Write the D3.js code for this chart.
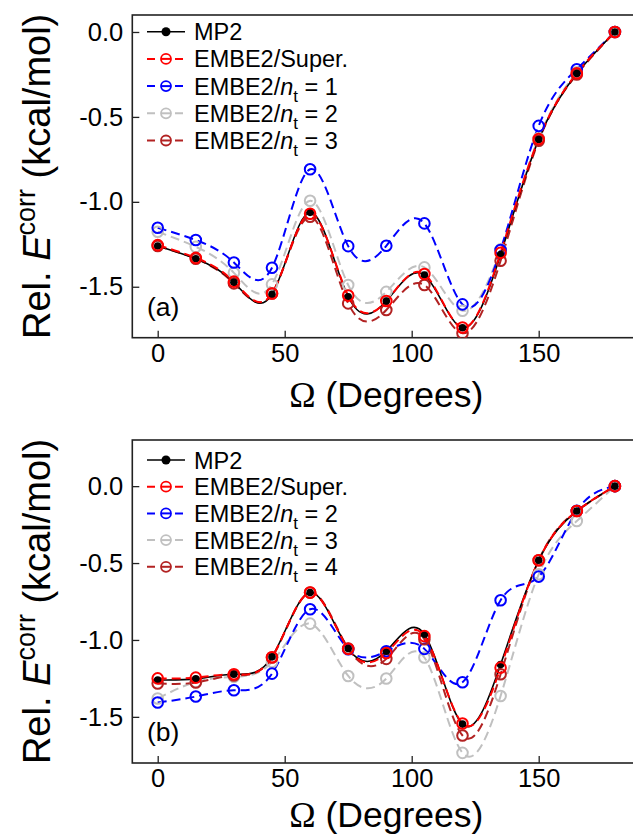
<!DOCTYPE html>
<html>
<head>
<meta charset="utf-8">
<script src="https://cdn.jsdelivr.net/npm/d3@7"></script>
<style>
  html, body { margin: 0; padding: 0; background: #fff; }
  svg { display: block; font-family: "Liberation Sans", Arial, sans-serif; }
</style>
</head>
<body>
<script>
// Dihedral scan angles (degrees)
const angles = [0, 15, 30, 45, 60, 75, 90, 105, 120, 135, 150, 165, 180];

// Panel (a): relative correlation energies, kcal/mol
const mp2A   = [-1.260, -1.335, -1.474, -1.545, -1.062, -1.559, -1.584, -1.431, -1.741, -1.310, -0.633, -0.245, 0];
const superA = [-1.255, -1.330, -1.470, -1.540, -1.070, -1.552, -1.584, -1.425, -1.740, -1.300, -0.630, -0.243, 0];
const nt1A   = [-1.153, -1.225, -1.357, -1.388, -0.808, -1.261, -1.259, -1.127, -1.604, -1.284, -0.553, -0.219, 0];
const nt2A   = [-1.176, -1.265, -1.418, -1.486, -0.994, -1.490, -1.530, -1.386, -1.641, -1.280, -0.625, -0.238, 0];
const nt3A   = [-1.260, -1.335, -1.480, -1.540, -1.088, -1.598, -1.637, -1.490, -1.774, -1.347, -0.640, -0.250, 0];

// Panel (b): relative correlation energies, kcal/mol
const mp2B   = [-1.260, -1.253, -1.223, -1.110, -0.692, -1.056, -1.073, -0.963, -1.547, -1.160, -0.482, -0.162, 0];
const superB = [-1.250, -1.245, -1.223, -1.112, -0.692, -1.058, -1.085, -0.975, -1.543, -1.180, -0.482, -0.162, 0];
const nt2B   = [-1.407, -1.368, -1.327, -1.219, -0.800, -1.060, -1.073, -1.058, -1.275, -0.742, -0.588, -0.160, 0];
const nt3B   = [-1.381, -1.273, -1.240, -1.143, -0.894, -1.234, -1.251, -1.114, -1.734, -1.364, -0.573, -0.227, 0];
const nt4B   = [-1.283, -1.277, -1.231, -1.114, -0.692, -1.056, -1.123, -0.995, -1.621, -1.223, -0.482, -0.162, 0];

// Axis ticks
const xTicks = [0, 50, 100, 150];
const yTicks = [0, -0.5, -1.0, -1.5];

// Legend labels: [prefix, subscript-number] (null number = plain text)
const legendA = [["MP2", null], ["EMBE2/Super.", null], ["EMBE2/", "1"], ["EMBE2/", "2"], ["EMBE2/", "3"]];
const legendB = [["MP2", null], ["EMBE2/Super.", null], ["EMBE2/", "2"], ["EMBE2/", "3"], ["EMBE2/", "4"]];

const styles = {
  mp2:   { color: "#000000", dash: null,  filled: true },
  sup:   { color: "#ff0000", dash: "9,5", filled: false },
  blue:  { color: "#0000ff", dash: "9,5", filled: false },
  grey:  { color: "#c0c0c0", dash: "9,5", filled: false },
  brown: { color: "#b22222", dash: "9,5", filled: false }
};

const W = 633, H = 837;
const svg = d3.select("body").append("svg").attr("width", W).attr("height", H);

const x = d3.scaleLinear().domain([-10, 190]).range([132.3, 640.3]);

function drawPanel(p) {
  const y = d3.scaleLinear().domain(p.yDomain).range([p.bottom, p.top]);
  const g = svg.append("g");
  const left = x.range()[0], right = x.range()[1];

  // clip so curves stay inside the frame
  const clipId = "clip-" + p.tag;
  svg.append("clipPath").attr("id", clipId).append("rect")
    .attr("x", left).attr("y", p.top).attr("width", right - left).attr("height", p.bottom - p.top);

  // axes with inward ticks
  const xAxis = d3.axisBottom(x).tickValues(xTicks).tickSizeInner(-7).tickSizeOuter(0).tickPadding(6)
    .tickFormat(d => String(d));
  const yAxis = d3.axisLeft(y).tickValues(yTicks).tickSizeInner(-7).tickSizeOuter(0).tickPadding(9)
    .tickFormat(d => d.toFixed(1));

  const gx = g.append("g").attr("transform", `translate(0,${p.bottom})`).call(xAxis);
  const gy = g.append("g").attr("transform", `translate(${left},0)`).call(yAxis);
  [gx, gy].forEach(a => {
    a.select(".domain").remove();
    a.selectAll(".tick line").attr("stroke", "#222").attr("stroke-width", 1.3);
    a.selectAll(".tick text").attr("fill", "#000").attr("font-size", 25.5)
      .attr("font-family", "'Liberation Sans', Arial, sans-serif");
  });

  // frame
  g.append("rect").attr("x", left).attr("y", p.top)
    .attr("width", right - left).attr("height", p.bottom - p.top)
    .attr("fill", "none").attr("stroke", "#222").attr("stroke-width", 1.6);

  const line = d3.line().x((d, i) => x(angles[i])).y(d => y(d)).curve(d3.curveNatural);
  const plot = g.append("g").attr("clip-path", `url(#${clipId})`);

  // curves
  p.series.forEach(s => {
    const st = styles[s.style];
    plot.append("path").datum(s.values).attr("d", line)
      .attr("fill", "none").attr("stroke", st.color)
      .attr("stroke-width", st.dash ? 2 : 1.6)
      .attr("stroke-dasharray", st.dash);
  });
  // markers
  p.series.forEach(s => {
    const st = styles[s.style];
    plot.append("g").selectAll("circle").data(s.values).join("circle")
      .attr("cx", (d, i) => x(angles[i])).attr("cy", d => y(d))
      .attr("r", st.filled ? 3.8 : 5.3)
      .attr("fill", st.filled ? st.color : "none")
      .attr("stroke", st.color).attr("stroke-width", st.filled ? 0 : 2);
  });

  // legend
  const lg = g.append("g");
  p.legend.forEach((lab, i) => {
    const st = styles[p.legendStyles[i]];
    const cy = p.legendTop + i * p.legendStep;
    lg.append("line").attr("x1", 147).attr("x2", 185).attr("y1", cy).attr("y2", cy)
      .attr("stroke", st.color).attr("stroke-width", st.dash ? 2 : 1.6)
      .attr("stroke-dasharray", st.dash ? "8,6" : null);
    lg.append("circle").attr("cx", 166).attr("cy", cy).attr("r", st.filled ? 4.5 : 5)
      .attr("fill", st.filled ? st.color : "#fff")
      .attr("stroke", st.color).attr("stroke-width", st.filled ? 0 : 1.8);
    if (!st.filled) {
      lg.append("line").attr("x1", 161).attr("x2", 171).attr("y1", cy).attr("y2", cy)
        .attr("stroke", st.color).attr("stroke-width", 2);
    }
    const t = lg.append("text").attr("x", 194).attr("y", cy + 8.5).attr("font-size", 23.5).attr("fill", "#000");
    if (lab[1] === null) {
      t.text(lab[0]);
    } else {
      t.append("tspan").text(lab[0]);
      t.append("tspan").attr("font-style", "italic").text("n");
      t.append("tspan").attr("font-size", 17).attr("dy", 7).text("t");
      t.append("tspan").attr("dy", -7).text(" = " + lab[1]);
    }
  });

  // panel tag
  g.append("text").attr("x", 147).attr("y", p.bottom - 22).attr("font-size", 26.5).attr("fill", "#000")
    .text("(" + p.tag + ")");

  // x title
  const xt = g.append("text").attr("x", (left + right) / 2).attr("y", p.bottom + p.xTitleOffset)
    .attr("text-anchor", "middle").attr("font-size", 35.5).attr("fill", "#000");
  xt.append("tspan").attr("font-family", "'Liberation Serif', 'Times New Roman', serif").text("\u03A9");
  xt.append("tspan").text(" (Degrees)");

  // y title
  const cyT = (p.top + p.bottom) / 2;
  const yt = g.append("text").attr("transform", `translate(50,${cyT}) rotate(-90)`)
    .attr("text-anchor", "middle").attr("font-size", 38).attr("fill", "#000");
  yt.append("tspan").text("Rel. ");
  yt.append("tspan").attr("font-style", "italic").text("E");
  yt.append("tspan").attr("font-size", 27).attr("dy", -15).text("corr");
  yt.append("tspan").attr("dy", 15).text(" (kcal/mol)");
}

drawPanel({
  tag: "a", top: 15, bottom: 337.7, yDomain: [-1.8, 0.1], xTitleOffset: 69,
  series: [
    { style: "grey",  values: nt2A },
    { style: "blue",  values: nt1A },
    { style: "brown", values: nt3A },
    { style: "mp2",   values: mp2A },
    { style: "sup",   values: superA }
  ],
  legend: legendA, legendStyles: ["mp2", "sup", "blue", "grey", "brown"],
  legendTop: 31.7, legendStep: 27.2
});

drawPanel({
  tag: "b", top: 440, bottom: 763, yDomain: [-1.8, 0.3], xTitleOffset: 64,
  series: [
    { style: "grey",  values: nt3B },
    { style: "blue",  values: nt2B },
    { style: "brown", values: nt4B },
    { style: "mp2",   values: mp2B },
    { style: "sup",   values: superB }
  ],
  legend: legendB, legendStyles: ["mp2", "sup", "blue", "grey", "brown"],
  legendTop: 460, legendStep: 26.7
});
</script>
</body>
</html>
